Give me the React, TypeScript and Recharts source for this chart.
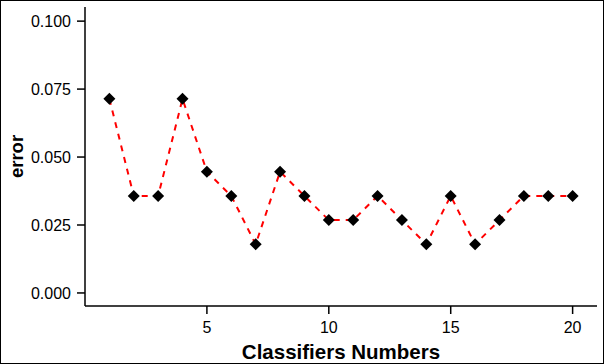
import React from 'react'
import { LineChart, Line, XAxis, YAxis } from 'recharts'

const classifiers = [1, 2, 3, 4, 5, 6, 7, 8, 9, 10, 11, 12, 13, 14, 15, 16, 17, 18, 19, 20]
const errors = [
  0.0714, 0.0357, 0.0357, 0.0714, 0.0446, 0.0357, 0.0179, 0.0446, 0.0357, 0.0268,
  0.0268, 0.0357, 0.0268, 0.0179, 0.0357, 0.0179, 0.0268, 0.0357, 0.0357, 0.0357,
]
const xTicks = [5, 10, 15, 20]
const yTicks = [0, 0.025, 0.05, 0.075, 0.1]

const data = classifiers.map((c, i) => ({ c, err: errors[i] }))

const FONT = 'Arial, "Liberation Sans", sans-serif'
const tickStyle = { fill: '#000', fontSize: 16, fontFamily: FONT }

const Diamond = (props: any) => {
  const { cx, cy } = props
  if (cx == null || cy == null) return null
  const r = 6
  return (
    <path
      key={`d-${cx}-${cy}`}
      d={`M${cx},${cy - r}L${cx + r},${cy}L${cx},${cy + r}L${cx - r},${cy}Z`}
      fill="#000"
    />
  )
}

export default function App() {
  return (
    <div style={{
      position: 'fixed', left: 0, top: 0, width: 604, height: 364,
      border: '1px solid #000', boxSizing: 'border-box', background: '#fff',
    }}>
      <div style={{ position: 'absolute', left: -1, top: -1 }}>
        <LineChart width={604} height={364} data={data}
          margin={{ top: 7, right: 7, bottom: 8, left: 5 }}>
          <XAxis
            xAxisId="b" dataKey="c" type="number" domain={[0, 21]} ticks={xTicks}
            tick={tickStyle} tickSize={8} tickMargin={8} height={50}
            stroke="#000" strokeWidth={1.5} allowDataOverflow
            label={{ value: 'Classifiers Numbers', position: 'insideBottom', offset: -3,
              style: { fill: '#000', fontSize: 20.5, fontWeight: 700, fontFamily: FONT } }}
          />
          <XAxis xAxisId="t" orientation="top" dataKey="c" type="number" domain={[0, 21]}
            tick={false} tickLine={false} height={0} stroke="#000" strokeWidth={1.5} />
          <YAxis
            yAxisId="l" type="number" domain={[-0.0048, 0.1052]} ticks={yTicks}
            tickFormatter={v => Number(v).toFixed(3)}
            tick={tickStyle} tickSize={8} tickMargin={6} width={80}
            stroke="#000" strokeWidth={1.5} allowDataOverflow
            label={{ value: 'error', angle: -90, position: 'insideLeft', offset: 11,
              style: { fill: '#000', fontSize: 18.5, fontWeight: 700, fontFamily: FONT, textAnchor: 'middle' } }}
          />
          <YAxis yAxisId="r" orientation="right" type="number" domain={[-0.0048, 0.1052]}
            tick={false} tickLine={false} width={0} stroke="#000" strokeWidth={1.5} />
          <Line
            xAxisId="b" yAxisId="l" type="linear" dataKey="err"
            stroke="#ff0000" strokeWidth={2} strokeDasharray="6 6"
            dot={<Diamond />} activeDot={false} isAnimationActive={false}
          />
        </LineChart>
      </div>
    </div>
  )
}
